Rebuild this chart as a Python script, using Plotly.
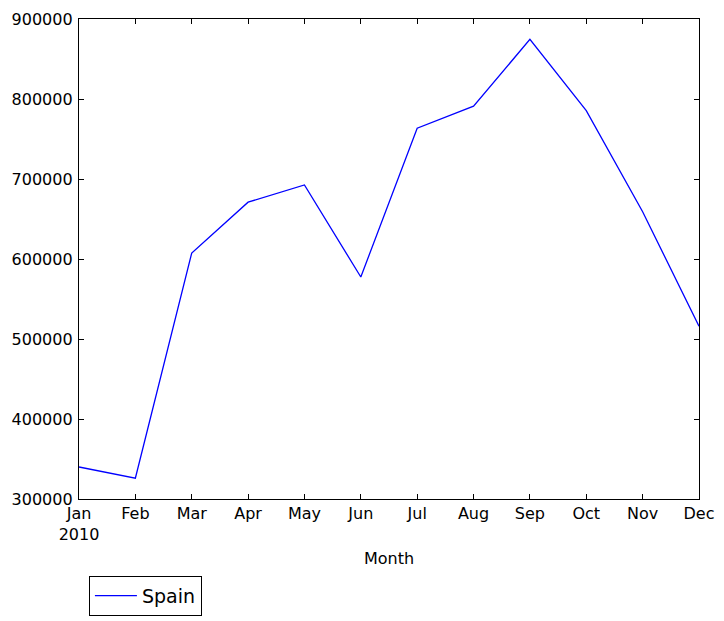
import plotly.graph_objects as go

months = ["Jan", "Feb", "Mar", "Apr", "May", "Jun", "Jul", "Aug", "Sep", "Oct", "Nov", "Dec"]
tick_labels = ["Jan<br>2010", "Feb", "Mar", "Apr", "May", "Jun", "Jul", "Aug", "Sep", "Oct", "Nov", "Dec"]
spain = [340000, 326000, 607500, 671000, 692500, 577500, 763500, 791000, 874500, 785500, 659000, 516000]
y_ticks = [300000, 400000, 500000, 600000, 700000, 800000, 900000]

fig = go.Figure()
fig.add_trace(go.Scatter(x=months, y=spain, mode="lines", name="Spain",
                         line=dict(color="#0000ff", width=1.3)))

font = "DejaVu Sans, sans-serif"
axis_common = dict(showline=True, linecolor="black", linewidth=1.3, mirror="ticks",
                   ticks="inside", ticklen=5, tickcolor="black", showgrid=False,
                   zeroline=False, automargin=False,
                   tickfont=dict(family=font, size=16, color="black"))

fig.update_xaxes(type="category", tickvals=months, ticktext=tick_labels, range=[0, 11],
                 title=dict(text="Month", font=dict(family=font, size=16, color="black"), standoff=9),
                 **axis_common)
fig.update_yaxes(range=[300000, 900000], tickvals=y_ticks, ticktext=[str(v) for v in y_ticks],
                 ticklabelstandoff=2, **axis_common)

fig.update_layout(width=724, height=621, plot_bgcolor="white", paper_bgcolor="white",
                  margin=dict(l=79, r=25, t=19, b=122, autoexpand=False),
                  showlegend=True,
                  legend=dict(x=0.016, y=-0.16, xanchor="left", yanchor="top",
                              bordercolor="black", borderwidth=1, bgcolor="white",
                              itemwidth=42,
                              font=dict(family=font, size=19, color="black")),
                  font=dict(family=font))

fig.write_html("out.html")
